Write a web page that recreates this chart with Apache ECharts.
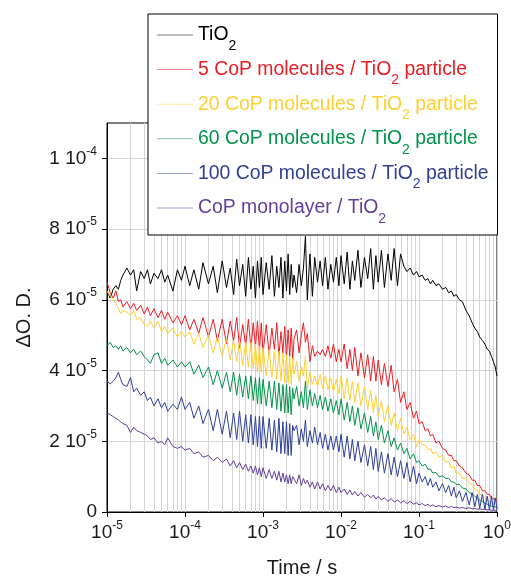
<!DOCTYPE html>
<html>
<head>
<meta charset="utf-8">
<script src="https://cdn.jsdelivr.net/npm/echarts@6/dist/echarts.min.js"></script>
<style>
  html, body { margin: 0; padding: 0; background: #fff; }
  #chart { width: 511px; height: 577px; }
</style>
</head>
<body>
<div id="chart"></div>
<script>
// time axis (s)
const time = [
  1.0e-5,1.1e-5,1.2e-5,1.3e-5,1.4e-5,1.5e-5,1.6e-5,1.8e-5,2.0e-5,2.2e-5,2.4e-5,2.7e-5,3.0e-5,3.3e-5,3.6e-5,4.0e-5,4.5e-5,5.0e-5,5.5e-5,6.0e-5,7.0e-5,8.0e-5,9.0e-5,
  1.0e-4,1.15e-4,1.3e-4,1.5e-4,1.7e-4,2.0e-4,2.3e-4,2.6e-4,3.0e-4,3.4e-4,3.8e-4,4.2e-4,4.6e-4,5.0e-4,5.5e-4,6.0e-4,6.5e-4,7.0e-4,7.5e-4,8.0e-4,8.5e-4,9.0e-4,9.5e-4,
  1.0e-3,1.1e-3,1.2e-3,1.3e-3,1.4e-3,1.5e-3,1.6e-3,1.7e-3,1.8e-3,1.9e-3,2.0e-3,2.1e-3,2.2e-3,2.3e-3,2.4e-3,
  2.5e-3,2.7e-3,2.9e-3,3.1e-3,3.3e-3,3.5e-3,3.7e-3,4.0e-3,4.3e-3,4.6e-3,5.0e-3,5.4e-3,5.8e-3,6.3e-3,6.8e-3,7.4e-3,8.0e-3,8.7e-3,9.4e-3,
  1.0e-2,1.1e-2,1.2e-2,1.3e-2,1.4e-2,1.5e-2,1.65e-2,1.8e-2,2.0e-2,2.2e-2,2.4e-2,2.6e-2,2.8e-2,3.0e-2,3.3e-2,3.6e-2,4.0e-2,4.4e-2,4.8e-2,5.3e-2,5.8e-2,6.4e-2,7.0e-2,7.7e-2,8.5e-2,9.3e-2,
  0.10,0.11,0.12,0.13,0.14,0.15,0.165,0.18,0.20,0.22,0.24,0.26,0.28,0.30,0.33,0.36,0.40,0.44,0.48,0.52,0.56,0.60,0.65,0.70,0.75,0.80,0.85,0.90,0.95,1.0
];

// ΔO.D. in units of 1e-5
const tio2 = [
  6.25,6.05,6.30,6.40,6.30,6.55,6.70,6.90,6.70,6.85,6.25,6.80,6.60,6.85,6.45,6.75,6.60,6.85,6.50,6.70,6.25,6.85,6.55,
  6.95,6.40,6.85,6.30,7.05,6.45,6.95,6.20,7.10,6.35,6.90,6.15,7.15,6.40,7.00,6.10,7.20,6.30,6.95,6.05,7.10,6.35,7.20,
  6.15,7.05,6.30,7.25,6.10,6.95,6.35,7.20,6.05,7.10,6.25,7.30,6.15,7.00,6.35,
  6.70,6.20,7.00,6.40,6.90,7.80,6.00,7.30,6.10,7.20,6.50,7.10,6.40,7.20,6.30,7.00,6.50,7.20,6.40,
  7.25,6.45,7.35,6.30,7.10,6.55,7.40,6.35,7.20,6.60,7.45,6.30,7.25,6.50,7.40,6.35,7.30,6.55,7.45,6.40,7.30,6.95,6.80,6.90,6.70,6.80,
  6.65,6.70,6.55,6.60,6.45,6.55,6.40,6.45,6.30,6.35,6.20,6.25,6.10,6.15,6.00,5.95,5.70,5.55,5.35,5.20,5.10,4.95,4.85,4.75,4.60,4.55,4.40,4.25,4.10,3.85
];
const cop5 = [
  6.50,6.20,6.05,6.25,5.95,6.00,5.80,5.95,5.75,5.90,5.70,5.85,5.60,5.80,5.55,5.75,5.50,5.70,5.45,5.65,5.35,5.55,5.30,
  5.55,5.15,5.45,5.05,5.50,4.95,5.45,4.85,5.45,4.75,5.40,4.85,5.50,4.65,5.30,4.70,5.45,4.60,5.35,4.65,5.40,4.55,5.35,
  4.50,5.30,4.45,5.20,4.60,5.35,4.40,5.10,4.50,5.25,4.35,5.15,4.40,5.20,4.30,
  4.90,5.15,4.50,5.00,5.35,4.80,5.05,4.25,4.70,4.40,4.55,4.45,4.60,4.40,4.70,4.35,4.75,4.25,4.60,
  4.25,4.75,4.05,4.60,4.00,4.65,3.85,4.50,3.80,4.45,3.70,4.40,3.70,4.30,3.60,4.20,3.55,4.15,3.40,3.75,3.10,3.40,2.90,3.10,2.65,2.85,
  2.50,2.55,2.30,2.35,2.15,2.20,1.95,2.00,1.80,1.75,1.60,1.60,1.45,1.45,1.30,1.25,1.10,1.05,0.90,0.90,0.75,0.75,0.60,0.60,0.50,0.50,0.40,0.42,0.35,0.35
];
const cop20 = [
  6.25,6.10,6.00,5.90,5.75,5.60,5.70,5.65,5.55,5.70,5.45,5.50,5.30,5.25,5.40,5.20,5.40,5.10,5.25,5.05,5.20,4.95,5.10,
  4.95,5.10,4.75,5.05,4.65,5.00,4.50,4.95,4.40,4.90,4.30,4.85,4.25,4.85,4.15,4.80,4.10,4.80,4.05,4.75,3.95,4.70,3.95,
  4.65,3.85,4.60,3.80,4.55,3.75,4.55,3.70,4.50,3.65,4.45,3.65,4.40,3.60,4.35,
  3.90,4.25,3.70,4.10,3.85,4.40,3.50,3.95,3.60,3.85,3.55,3.90,3.50,3.85,3.45,3.80,3.40,3.75,3.35,
  3.85,3.20,3.80,3.15,3.70,3.10,3.65,3.00,3.55,2.90,3.45,2.80,3.30,2.70,3.15,2.55,3.00,2.45,2.80,2.30,2.65,2.20,2.40,2.05,2.20,1.85,
  2.05,1.90,1.90,1.75,1.80,1.65,1.70,1.55,1.60,1.40,1.45,1.25,1.30,1.10,1.10,0.95,0.95,0.80,0.78,0.65,0.62,0.50,0.48,0.38,0.35,0.28,0.25,0.18,0.16,0.12
];
const cop60 = [
  4.70,4.80,4.65,4.70,4.60,4.70,4.55,4.65,4.50,4.60,4.45,4.55,4.40,4.30,4.20,4.45,4.50,4.20,4.35,4.15,4.30,4.10,4.25,
  4.10,4.25,3.90,4.15,3.80,4.10,3.60,4.00,3.50,3.95,3.40,3.95,3.30,3.90,3.25,3.85,3.20,3.85,3.15,3.80,3.05,3.80,3.05,
  3.75,3.00,3.70,2.95,3.70,2.90,3.65,2.85,3.60,2.80,3.60,2.80,3.55,2.75,3.50,
  3.20,3.55,3.00,3.40,2.95,3.70,2.90,3.45,3.00,3.35,2.95,3.30,2.90,3.25,2.85,3.20,2.80,3.15,2.75,
  3.20,2.60,3.10,2.55,3.00,2.45,2.95,2.35,2.80,2.25,2.70,2.15,2.55,2.05,2.45,1.95,2.30,1.85,2.10,1.75,1.95,1.65,1.80,1.50,1.65,1.40,
  1.45,1.30,1.35,1.20,1.22,1.10,1.12,1.00,1.02,0.95,0.95,0.85,0.85,0.78,0.78,0.68,0.65,0.55,0.52,0.44,0.40,0.32,0.30,0.25,0.22,0.18,0.17,0.14,0.14,0.12
];
const cop100 = [
  3.70,3.62,3.70,3.80,3.95,3.75,3.60,3.55,3.80,3.40,3.50,3.30,3.40,3.15,3.25,3.00,3.20,2.95,3.10,2.85,3.05,2.90,3.25,
  2.90,3.10,2.65,3.00,2.50,2.90,2.30,2.90,2.20,2.85,2.10,2.80,2.05,2.85,2.00,2.75,1.95,2.75,1.90,2.70,1.85,2.70,1.80,
  2.70,1.80,2.65,1.75,2.60,1.70,2.65,1.65,2.55,1.65,2.55,1.60,2.50,1.60,2.45,
  2.30,2.45,1.90,2.35,2.00,2.60,1.85,2.30,1.95,2.40,1.90,2.25,1.80,2.20,1.75,2.15,1.75,2.15,1.70,
  2.20,1.55,2.15,1.50,2.05,1.45,2.00,1.40,1.90,1.30,1.85,1.20,1.80,1.15,1.70,1.10,1.65,1.05,1.55,1.00,1.45,0.95,1.40,0.85,1.30,0.80,
  1.10,0.85,1.00,0.75,0.95,0.70,0.85,0.60,0.80,0.55,0.75,0.45,0.70,0.40,0.60,0.30,0.55,0.20,0.55,0.15,0.50,0.10,0.50,0.08,0.45,0.05,0.45,0.05,0.40,0.08
];
const monolayer = [
  2.80,2.75,2.70,2.65,2.60,2.55,2.50,2.45,2.25,2.40,2.30,2.25,2.20,2.15,2.05,2.10,1.95,2.00,1.90,2.10,1.85,1.80,1.85,
  1.75,1.80,1.65,1.70,1.55,1.60,1.45,1.55,1.40,1.50,1.30,1.45,1.25,1.40,1.20,1.35,1.15,1.30,1.10,1.30,1.05,1.25,1.00,
  1.25,0.95,1.20,0.95,1.15,0.90,1.15,0.85,1.10,0.85,1.05,0.80,1.05,0.80,1.00,
  0.95,0.80,1.05,0.75,0.95,0.80,0.90,0.70,0.85,0.65,0.85,0.65,0.80,0.60,0.75,0.60,0.75,0.55,0.70,
  0.55,0.65,0.50,0.62,0.48,0.58,0.45,0.55,0.42,0.50,0.40,0.48,0.36,0.44,0.34,0.40,0.30,0.38,0.28,0.34,0.26,0.32,0.24,0.30,0.22,0.26,
  0.20,0.24,0.18,0.22,0.16,0.20,0.15,0.18,0.14,0.17,0.12,0.16,0.12,0.14,0.11,0.13,0.10,0.12,0.09,0.10,0.08,0.09,0.07,0.08,0.06,0.07,0.05,0.06,0.05,0.05
];

const seriesNames = ['TiO2', '5 CoP', '20 CoP', '60 CoP', '100 CoP', 'monolayer'];
const legendLabels = [
  'TiO{s|2}',
  '5 CoP molecules / TiO{s|2} particle',
  '20 CoP molecules / TiO{s|2} particle',
  '60 CoP molecules / TiO{s|2} particle',
  '100 CoP molecules / TiO{s|2} particle',
  'CoP monolayer / TiO{s|2}'
];
const seriesValues = [tio2, cop5, cop20, cop60, cop100, monolayer];
const colors = ['#000000', '#ec1c24', '#fdd032', '#00934a', '#2f3f98', '#623f9b'];

const yTicks = [0, 2, 4, 6, 8, 10];
const yTickLabels = ['{n|0}', '{n|2 10}{sup|-5}', '{n|4 10}{sup|-5}', '{n|6 10}{sup|-5}', '{n|8 10}{sup|-5}', '{n|1 10}{sup|-4}'];
const xTicks = [1e-5, 1e-4, 1e-3, 1e-2, 1e-1, 1];
const xTickLabels = ['{n|10}{sup|-5}', '{n|10}{sup|-4}', '{n|10}{sup|-3}', '{n|10}{sup|-2}', '{n|10}{sup|-1}', '{n|10}{sup|0}'];

const FONT = '"Liberation Sans", Arial, sans-serif';
const labelRich = {
  n: { fontSize: 19, fontFamily: FONT, color: '#1a1a1a' },
  sup: { fontSize: 12, fontFamily: FONT, color: '#1a1a1a', verticalAlign: 'middle', padding: [0, 0, 14, 0] }
};

// minor log grid lines (2..9 in each decade)
const minorGrid = [];
for (let d = -5; d < 0; d++) {
  for (let m = 2; m <= 9; m++) minorGrid.push(m * Math.pow(10, d));
}

const chart = echarts.init(document.getElementById('chart'));

const series = seriesNames.map((name, i) => ({
  name: name,
  type: 'line',
  data: time.map((t, k) => [t, seriesValues[i][k]]),
  symbol: 'none',
  lineStyle: { width: 1, color: colors[i] },
  itemStyle: { color: colors[i] },
  z: 3 + i
}));

series.unshift({
  type: 'lines',
  coordinateSystem: 'cartesian2d',
  silent: true,
  z: 1,
  lineStyle: { color: '#d4d4d4', width: 1, opacity: 1 },
  data: minorGrid.map(v => ({ coords: [[v, 0], [v, 11]] }))
});

chart.setOption({
  animation: false,
  grid: {
    left: 107, right: 14, top: 123, bottom: 65,
    outerBoundsMode: 'none',
    show: true, borderColor: '#000', borderWidth: 1, backgroundColor: 'transparent'
  },
  legend: {
    left: 148, top: 14,
    orient: 'vertical',
    backgroundColor: '#fff',
    borderColor: '#000',
    borderWidth: 1,
    padding: [10, 9, 9, 9],
    itemGap: 5.6,
    itemWidth: 36,
    itemHeight: 1,
    icon: 'rect',
    itemStyle: { opacity: 0.5 },
    data: seriesNames.map((n, i) => ({ name: n, textStyle: { color: colors[i] } })),
    formatter: name => legendLabels[seriesNames.indexOf(name)],
    textStyle: {
      fontSize: 19.4, fontFamily: FONT, lineHeight: 22,
      rich: {
        s: { fontSize: 14, fontFamily: FONT, verticalAlign: 'middle', padding: [22, 0, 0, 0] }
      }
    }
  },
  xAxis: {
    type: 'log',
    logBase: 10,
    min: 1e-5,
    max: 1,
    name: 'Time / s',
    nameLocation: 'middle',
    nameGap: 46,
    nameTextStyle: { fontSize: 20, fontFamily: FONT, color: '#1a1a1a' },
    axisLine: { show: true, lineStyle: { color: '#000', width: 1 } },
    axisTick: { show: true, length: 5, lineStyle: { color: '#000' } },
    axisLabel: {
      margin: 8,
      fontSize: 19,
      verticalAlign: 'top',
      formatter: v => {
        const k = xTicks.findIndex(t => Math.abs(Math.log10(t) - Math.log10(v)) < 1e-6);
        return k >= 0 ? xTickLabels[k] : '';
      },
      rich: labelRich
    },
    splitLine: { show: true, lineStyle: { color: '#d4d4d4', width: 1 } }
  },
  yAxis: {
    type: 'value',
    min: 0,
    max: 11,
    interval: 2,
    name: 'ΔO. D.',
    nameLocation: 'middle',
    nameGap: 73,
    nameTextStyle: { fontSize: 20, fontFamily: FONT, color: '#1a1a1a' },
    axisLine: { show: true, lineStyle: { color: '#000', width: 1 } },
    axisTick: { show: true, length: 5, lineStyle: { color: '#000' }, customValues: yTicks },
    axisLabel: {
      margin: 10,
      fontSize: 19,
      verticalAlign: 'middle',
      customValues: yTicks,
      formatter: v => {
        const k = yTicks.indexOf(Math.round(v * 100) / 100);
        return k >= 0 ? yTickLabels[k] : '';
      },
      rich: labelRich
    },
    splitLine: { show: true, lineStyle: { color: '#d4d4d4', width: 1 } }
  },
  series: series
});
</script>
</body>
</html>
